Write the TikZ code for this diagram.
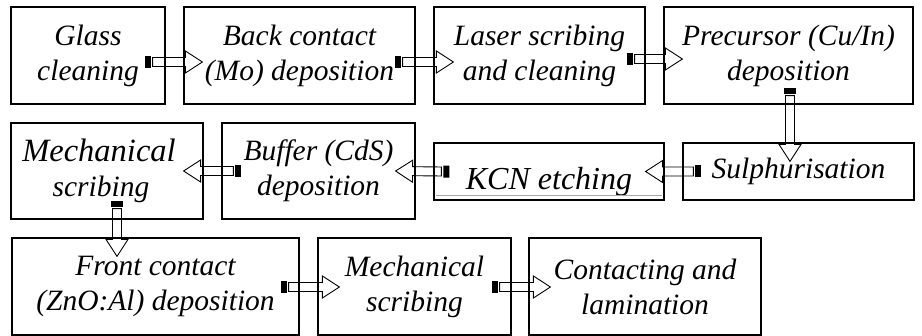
\documentclass[tikz,border=0pt]{standalone}
\usepackage{fontspec}
\setmainfont{Liberation Serif}
\usetikzlibrary{calc}

\begin{document}
\begin{tikzpicture}[x=1pt,y=-1pt,
        stepbox/.style={draw, line width=1.2pt, inner sep=0pt, align=center,
            font=\fontsize{29.5}{35}\selectfont\itshape},
        tailmark/.style={rectangle, fill=black, inner sep=0pt, minimum width=6pt,
            minimum height=12pt, outer xsep=2pt, anchor=east},
        flow/.style={line width=0.9pt, to path={
            let \p1=($(\tikztotarget)!17pt!(\tikztostart)$),
                \p2=($(\tikztotarget)-(\tikztostart)$),
                \n1={atan2(\y2,\x2)} in
            ($(\tikztostart)!4.5pt!90:(\tikztotarget)$)
            -- ($(\p1)!4.5pt!90:(\tikztotarget)$)
            -- ($(\p1)!11pt!90:(\tikztotarget)$)
            -- (\tikztotarget)
            -- ($(\p1)!11pt!-90:(\tikztotarget)$)
            -- ($(\p1)!4.5pt!-90:(\tikztotarget)$)
            -- ($(\tikztostart)!4.5pt!-90:(\tikztotarget)$)
            -- cycle
            (\tikztostart) node[tailmark, rotate=\n1] {}
        }}]
    \useasboundingbox (0,0) rectangle (922,336);

    % first row
    \node[stepbox, minimum width=154pt, minimum height=97pt] (b1) at (88,55.5) {Glass\\cleaning};
    \node[stepbox, minimum width=231pt, minimum height=97pt] (b2) at (299.5,55.5) {Back contact\\(Mo) deposition};
    \node[stepbox, minimum width=211pt, minimum height=97pt] (b3) at (539.5,55.5) {Laser scribing\\and cleaning};
    \node[stepbox, minimum width=249pt, minimum height=97pt] (b4) at (788.5,55.5) {Precursor (Cu/In)\\deposition};

    % second row, runs right to left
    \node[stepbox, minimum width=192pt, minimum height=96pt] (b5) at (107,171)
        {{\fontsize{32.5}{35}\selectfont Mechanical}\hspace*{16pt}\\scribing\hspace*{12pt}};
    \node[stepbox, minimum width=193pt, minimum height=96pt] (b6) at (318.5,171) {Buffer (CdS)\\deposition};
    \node[stepbox, minimum width=230pt, minimum height=57pt] (b7) at (549,171.5) {};
    \node[stepbox, minimum width=231pt, minimum height=57pt] (b8) at (798.5,171.5) {Sulphurisation};
    \begin{scope}
        \clip (436,145) rectangle (662,195.5);
        \node[anchor=base, inner sep=0pt, font=\fontsize{32}{40}\selectfont\itshape]
            (kcn) at (549,190) {KCN etching};
        \draw[black!35, line width=0.6pt] (436,195.2) -- (662,195.2);
    \end{scope}

    % third row
    \node[stepbox, minimum width=287pt, minimum height=97pt] (b9) at (155.5,286.5) {Front contact\\(ZnO:Al) deposition};
    \node[stepbox, minimum width=193pt, minimum height=97pt] (b10) at (414.5,286.5) {Mechanical\\scribing};
    \node[stepbox, minimum width=232pt, minimum height=97pt] (b11) at (645,286.5) {Contacting and\\lamination};

    % process arrows
    \draw[flow] ($(b1.east)+(-13,6.5)$) to ($(b2.west)+(19,6.5)$);
    \draw[flow] ($(b2.east)+(-13,6.5)$) to ($(b3.west)+(20,6.5)$);
    \draw[flow] ($(b3.east)+(-11,3.5)$) to ($(b4.west)+(19,3.5)$);
    \draw[flow] ($(b4.south)+(1.5,-9)$) to ($(b4.south |- b8.north)+(1.5,19)$);
    \draw[flow] ($(b8.west)+(11,0)$) to ($(b7.east)+(-19,0)$);
    \draw[flow] ($(b7.west)+(8,0)$) to ($(b6.east)+(-20,0)$);
    \draw[flow] ($(b6.west)+(12,0)$) to ($(b5.east)+(-20,0)$);
    \draw[flow] ($(b5.south)+(10,-11)$) to ($(b5.south |- b9.north)+(10,19)$);
    \draw[flow] ($(b9.east)+(-11,0.5)$) to ($(b10.west)+(22,0.5)$);
    \draw[flow] ($(b10.east)+(-12,0.5)$) to ($(b11.west)+(22,0.5)$);
\end{tikzpicture}
\end{document}
